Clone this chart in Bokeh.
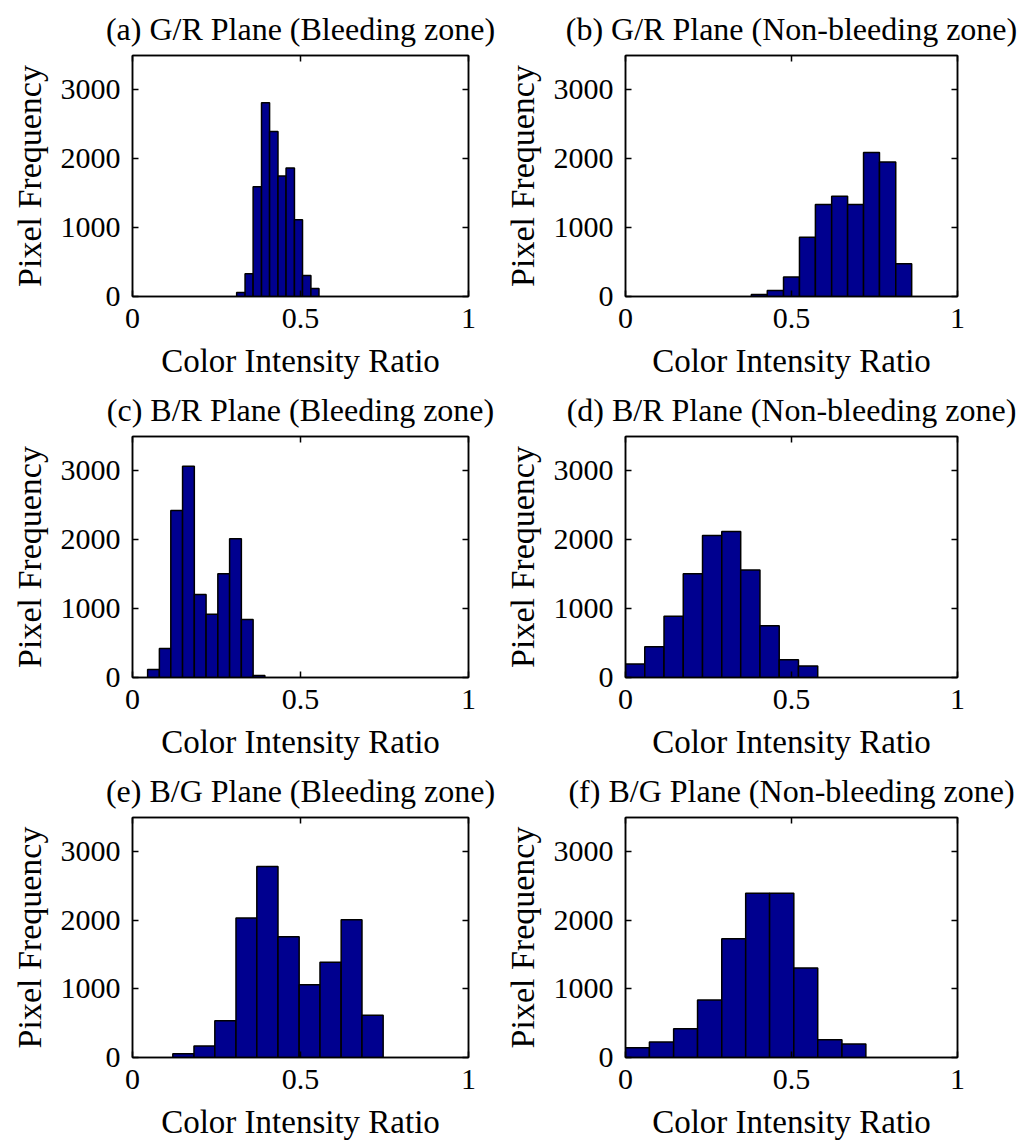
from bokeh.plotting import figure
from bokeh.layouts import gridplot
from bokeh.models import ColumnDataSource, Range1d, LinearAxis, FixedTicker, CustomJSTickFormatter
from bokeh.embed import file_html
from bokeh.resources import INLINE

# ---- data ----
titles = [
    "(a) G/R Plane (Bleeding zone)",
    "(b) G/R Plane (Non-bleeding zone)",
    "(c) B/R Plane (Bleeding zone)",
    "(d) B/R Plane (Non-bleeding zone)",
    "(e) B/G Plane (Bleeding zone)",
    "(f) B/G Plane (Non-bleeding zone)",
]

edges_a = [0.310, 0.335, 0.359, 0.384, 0.408, 0.433, 0.457, 0.482, 0.506, 0.531, 0.555]
counts_a = [57, 330, 1593, 2813, 2397, 1751, 1866, 1115, 306, 115]

edges_b = [0.379, 0.427, 0.476, 0.524, 0.572, 0.621, 0.669, 0.717, 0.765, 0.814, 0.862]
counts_b = [29, 86, 282, 861, 1335, 1455, 1335, 2091, 1952, 474]

edges_c = [0.045, 0.080, 0.114, 0.149, 0.184, 0.219, 0.254, 0.289, 0.324, 0.359, 0.394]
counts_c = [115, 421, 2426, 3067, 1206, 919, 1507, 2014, 842, 29]

edges_d = [0.000, 0.058, 0.116, 0.174, 0.232, 0.290, 0.347, 0.405, 0.463, 0.521, 0.579]
counts_d = [196, 445, 890, 1507, 2062, 2120, 1560, 751, 258, 167]

edges_e = [0.120, 0.183, 0.245, 0.308, 0.370, 0.433, 0.496, 0.558, 0.621, 0.683, 0.746]
counts_e = [53, 167, 536, 2033, 2785, 1761, 1062, 1388, 2010, 617]

edges_f = [0.000, 0.072, 0.145, 0.217, 0.290, 0.362, 0.434, 0.507, 0.579, 0.652, 0.724]
counts_f = [144, 225, 421, 837, 1732, 2397, 2397, 1306, 258, 196]

x_ticks = [0, 0.5, 1]
y_ticks = [0, 1000, 2000, 3000]
x_label = "Color Intensity Ratio"
y_label = "Pixel Frequency"

FONT = "Liberation Serif"
BAR_COLOR = "#00008F"


def style_axis(ax, show_labels):
    ax.major_tick_in = 6
    ax.major_tick_out = 0
    ax.minor_tick_in = 0
    ax.minor_tick_out = 0
    ax.axis_line_color = "black"
    ax.axis_line_width = 1.5
    ax.major_tick_line_color = "black"
    ax.major_tick_line_width = 1.5
    ax.major_label_text_font = FONT
    ax.major_label_text_font_size = "30px"
    ax.major_label_text_color = "black"
    ax.axis_label_text_font = FONT
    ax.axis_label_text_font_style = "normal"
    ax.axis_label_text_color = "black"
    if not show_labels:
        ax.formatter = CustomJSTickFormatter(code="return ''")
        ax.major_label_standoff = 0


def make_panel(title, edges, counts, width, height, left_b, right_b, bottom_b):
    p = figure(width=width, height=height,
               x_range=Range1d(0, 1), y_range=Range1d(0, 3500),
               output_backend="svg", toolbar_location=None,
               min_border_left=left_b, min_border_right=right_b,
               min_border_top=53, min_border_bottom=bottom_b,
               title=title)
    src = ColumnDataSource(dict(left=edges[:-1], right=edges[1:], top=counts))
    p.quad(left="left", right="right", top="top", bottom=0, source=src,
           fill_color=BAR_COLOR, line_color="black", line_width=1.5)

    p.title.text_font = FONT
    p.title.text_font_size = "32px"
    p.title.text_font_style = "normal"
    p.title.align = "center"
    p.title.offset = -4
    p.title.text_color = "black"
    p.title.standoff = 17

    p.xgrid.visible = False
    p.ygrid.visible = False
    p.outline_line_color = "black"
    p.outline_line_width = 1.5
    p.background_fill_color = "white"
    p.border_fill_color = "white"

    xa = p.xaxis[0]
    ya = p.yaxis[0]
    xa.ticker = FixedTicker(ticks=x_ticks)
    ya.ticker = FixedTicker(ticks=y_ticks)
    style_axis(xa, True)
    style_axis(ya, True)
    xa.axis_label = x_label
    ya.axis_label = y_label
    xa.axis_label_text_font_size = "33px"
    ya.axis_label_text_font_size = "34px"
    xa.major_label_standoff = 12
    ya.major_label_standoff = 12
    xa.axis_label_standoff = 12
    ya.axis_label_standoff = 10

    ra = LinearAxis(ticker=FixedTicker(ticks=y_ticks))
    ta = LinearAxis(ticker=FixedTicker(ticks=x_ticks))
    style_axis(ra, False)
    style_axis(ta, False)
    p.add_layout(ra, "right")
    p.add_layout(ta, "above")
    return p


LW, RW = 500, 523
pa = make_panel(titles[0], edges_a, counts_a, LW, 381, 132, 32, 84)
pb = make_panel(titles[1], edges_b, counts_b, RW, 381, 121, 66, 84)
pc = make_panel(titles[2], edges_c, counts_c, LW, 381, 132, 32, 84)
pd = make_panel(titles[3], edges_d, counts_d, RW, 381, 121, 66, 84)
pe = make_panel(titles[4], edges_e, counts_e, LW, 380, 132, 32, 83)
pf = make_panel(titles[5], edges_f, counts_f, RW, 380, 121, 66, 83)

grid = gridplot([[pa, pb], [pc, pd], [pe, pf]], toolbar_location=None)

open("out.html", "w").write(file_html(grid, INLINE))
